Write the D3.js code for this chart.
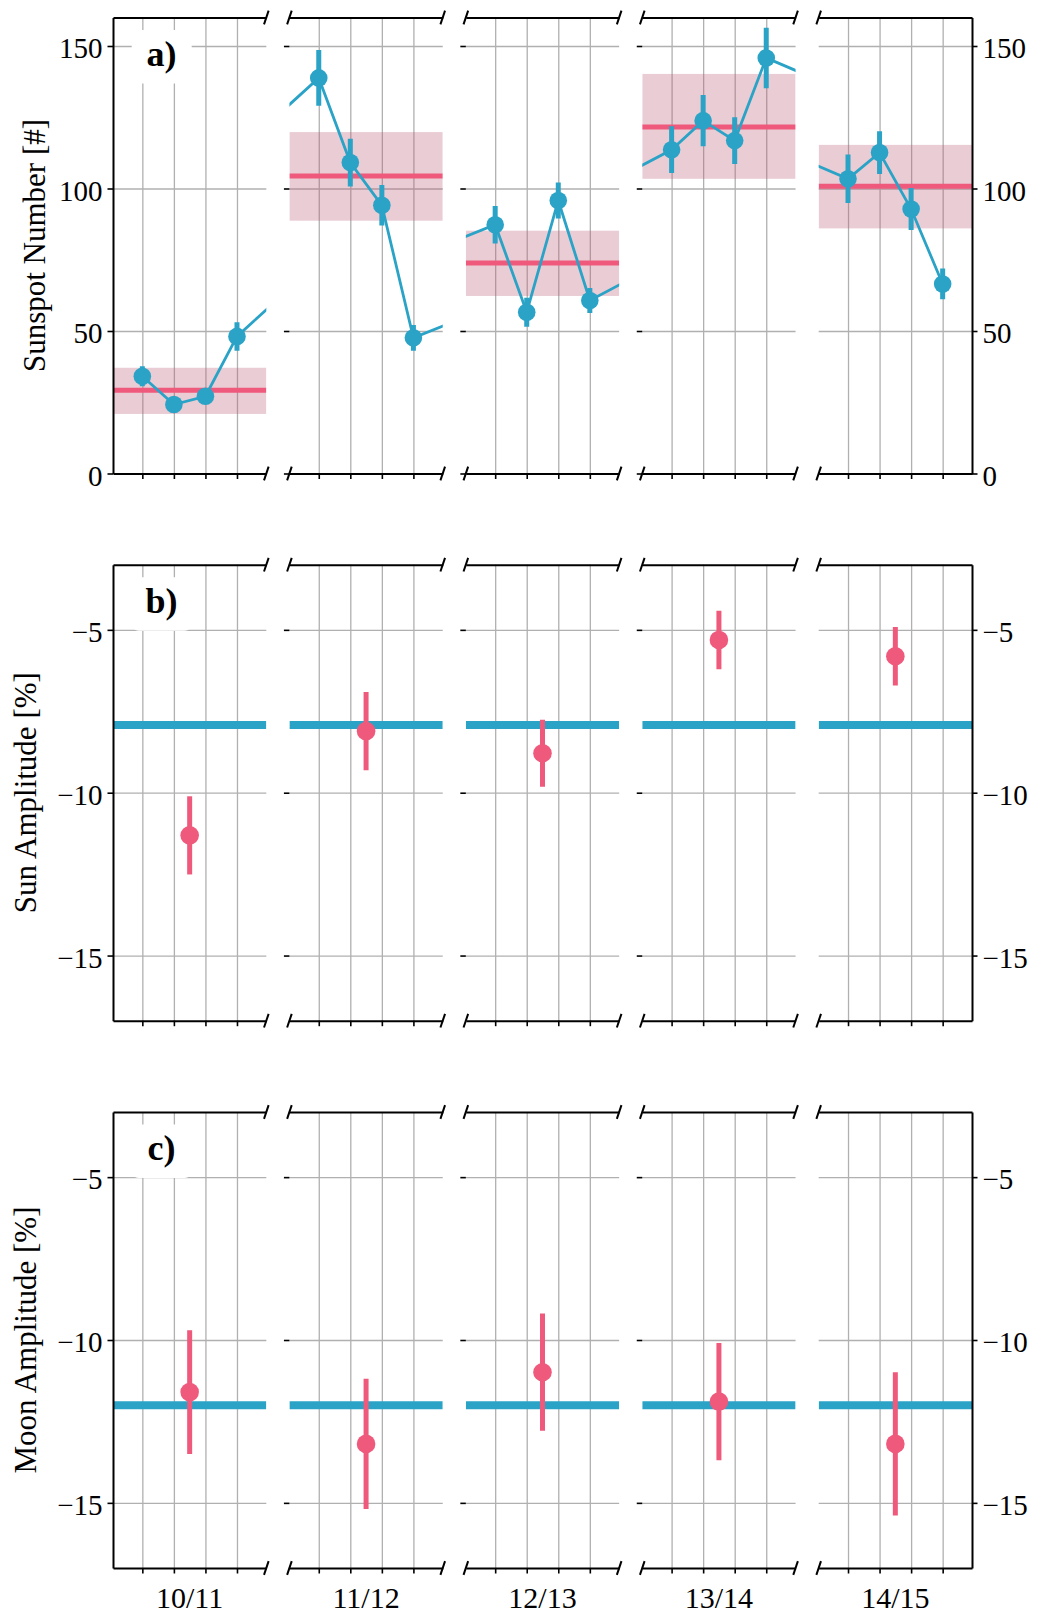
<!DOCTYPE html>
<html lang="en">
<head>
    <meta charset="UTF-8">
    <title>sunspots and amplitudes</title>
    <script src="https://cdn.jsdelivr.net/npm/d3@7"></script>
    <style>
        body{
            margin: 0;
            background: #fff;
        }
        svg{
            display: block;
            font-family: "Liberation Serif", serif;
        }
    </style>
</head>
<body>
</body>
<script type="text/javascript">

    // seasons (winters) and the four monthly slots shown in each one
    let seasons = ["10/11", "11/12", "12/13", "13/14", "14/15"];
    let monthSlots = [0, 1, 2, 3];

    // a) sunspot numbers, one row per season
    let sunspot = [[34.1, 24.2, 27.1, 48.1],
                   [138.8, 109.1, 94.1, 47.6],
                   [87.3, 56.6, 95.8, 60.7],
                   [113.6, 123.8, 116.8, 145.8],
                   [103.4, 112.6, 92.8, 66.5]];
    let sunspotErr = [[3.5, 2.5, 2.5, 5.0],
                      [9.8, 8.4, 7.1, 4.5],
                      [6.6, 5.1, 6.3, 4.4],
                      [8.2, 9.0, 8.2, 10.6],
                      [8.5, 7.5, 7.4, 5.4]];
    let sunspotMean = [29.2, 104.4, 73.9, 121.6, 100.8];
    let sunspotLow = [20.9, 88.7, 62.3, 103.4, 86.0];
    let sunspotHigh = [37.1, 119.8, 85.2, 140.2, 115.3];

    // b) sun amplitude
    let sunAmp = [-11.31, -8.11, -8.79, -5.31, -5.81];
    let sunAmpErr = [1.2, 1.2, 1.03, 0.9, 0.9];
    let sunAmpMean = -7.92;

    // c) moon amplitude
    let moonAmp = [-11.6, -13.19, -10.99, -11.89, -13.19];
    let moonAmpErr = [1.9, 2.0, 1.8, 1.8, 2.2];
    let moonAmpMean = -12.0;

    let sunspotTicks = [0, 50, 100, 150];
    let ampTicks = [-15, -10, -5];

    let blue = "#2aa3c7";
    let red = "#ef5a7c";
    let gridColor = "#b0b0b0";

    let left = 113, right = 972, gap = 23.1;
    let subW = (right - left - gap * (seasons.length - 1)) / seasons.length;
    let panelH = 456;
    let pad = 0.93;      // months of padding each side of a season window
    let yearStep = 12;   // months between seasons
    let tickLen = 5.5;

    let svg = d3.select("body")
        .append("svg")
        .attr("width", 1040)
        .attr("height", 1616);

    let panels = [
        {id: "a", top: 17.5, domain: [0, 160], ticks: sunspotTicks, title: "Sunspot Number [#]", titleX: 45},
        {id: "b", top: 564.7, domain: [-17, -3], ticks: ampTicks, title: "Sun Amplitude [%]", titleX: 36,
            values: sunAmp, errs: sunAmpErr, mean: sunAmpMean},
        {id: "c", top: 1112, domain: [-17, -3], ticks: ampTicks, title: "Moon Amplitude [%]", titleX: 36,
            values: moonAmp, errs: moonAmpErr, mean: moonAmpMean}
    ];

    // one continuous sunspot series, cut into windows below
    let sunspotPoints = [];
    seasons.forEach((s, k) => {
        monthSlots.forEach((m, j) => {
            sunspotPoints.push({season: k, x: k * yearStep + m, v: sunspot[k][j], e: sunspotErr[k][j]});
        });
    });

    let styleAxis = (a) => {
        a.attr("font-family", "Liberation Serif").attr("font-size", 29);
        a.select(".domain").attr("stroke", "#000").attr("stroke-width", 2);
        a.selectAll(".tick line").attr("stroke", "#000").attr("stroke-width", 1.6);
        a.selectAll(".tick text").attr("fill", "#000").attr("dy", "0.4em");
    };

    panels.forEach((p) => {
        let y = d3.scaleLinear().domain(p.domain).range([panelH, 0]);

        seasons.forEach((season, k) => {
            let x0 = k * yearStep;
            let x = d3.scaleLinear().domain([x0 - pad, x0 + 3 + pad]).range([0, subW]);
            let tickX = monthSlots.map(m => x0 + m);

            let g = svg.append("g")
                .attr("transform", `translate(${left + k * (subW + gap)},${p.top})`);

            let clipId = `clip-${p.id}${k}`;
            g.append("clipPath").attr("id", clipId)
                .append("rect").attr("width", subW).attr("height", panelH);

            // grid
            g.append("g")
                .call(d3.axisBottom(x).tickValues(tickX).tickSize(panelH).tickFormat(""))
                .call(a => a.select(".domain").remove())
                .selectAll("line").attr("stroke", gridColor).attr("stroke-width", 1.3);
            g.append("g")
                .call(d3.axisLeft(y).tickValues(p.ticks).tickSize(-subW).tickFormat(""))
                .call(a => a.select(".domain").remove())
                .selectAll("line").attr("stroke", gridColor).attr("stroke-width", 1.3);

            let plot = g.append("g").attr("clip-path", `url(#${clipId})`);

            if (p.id == "a") {
                plot.append("rect")
                    .attr("x", 0)
                    .attr("width", subW)
                    .attr("y", y(sunspotHigh[k]))
                    .attr("height", y(sunspotLow[k]) - y(sunspotHigh[k]))
                    .attr("fill", "#b65570")
                    .attr("fill-opacity", 0.3);
                plot.append("line")
                    .attr("x1", 0).attr("x2", subW)
                    .attr("y1", y(sunspotMean[k])).attr("y2", y(sunspotMean[k]))
                    .attr("stroke", red).attr("stroke-width", 5);

                let line = d3.line().x(d => x(d.x)).y(d => y(d.v));
                plot.append("path")
                    .datum(sunspotPoints)
                    .attr("fill", "none")
                    .attr("stroke", blue)
                    .attr("stroke-width", 2.8)
                    .attr("d", line);

                let pts = sunspotPoints.filter(d => d.season == k);
                plot.selectAll(".err").data(pts).join("line")
                    .attr("x1", d => x(d.x)).attr("x2", d => x(d.x))
                    .attr("y1", d => y(d.v + d.e)).attr("y2", d => y(d.v - d.e))
                    .attr("stroke", blue).attr("stroke-width", 5);
                plot.selectAll(".pt").data(pts).join("circle")
                    .attr("cx", d => x(d.x)).attr("cy", d => y(d.v))
                    .attr("r", 8.8)
                    .attr("fill", blue);
            } else {
                plot.append("line")
                    .attr("x1", 0).attr("x2", subW)
                    .attr("y1", y(p.mean)).attr("y2", y(p.mean))
                    .attr("stroke", blue).attr("stroke-width", 8);
                let cx = x(x0 + 1.5);
                plot.append("line")
                    .attr("x1", cx).attr("x2", cx)
                    .attr("y1", y(p.values[k] + p.errs[k])).attr("y2", y(p.values[k] - p.errs[k]))
                    .attr("stroke", red).attr("stroke-width", 5);
                plot.append("circle")
                    .attr("cx", cx).attr("cy", y(p.values[k]))
                    .attr("r", 9.3)
                    .attr("fill", red);
            }

            // panel letter on a white box
            if (k == 0) {
                g.append("rect")
                    .attr("x", 18.7).attr("y", 12.5)
                    .attr("width", 60).attr("height", 53.5)
                    .attr("rx", 7)
                    .attr("fill", "#fff");
                g.append("text")
                    .attr("x", 48.5).attr("y", 48)
                    .attr("text-anchor", "middle")
                    .attr("font-weight", "bold")
                    .attr("font-size", 36)
                    .text(p.id + ")");
            }

            // spines and ticks
            g.append("g")
                .attr("transform", `translate(0,${panelH})`)
                .call(d3.axisBottom(x).tickValues(tickX).tickSize(tickLen).tickSizeOuter(0).tickFormat(""))
                .call(styleAxis);
            g.append("g")
                .call(d3.axisTop(x).tickValues([]).tickSizeOuter(0))
                .call(styleAxis);

            if (k == 0) {
                g.append("g")
                    .call(d3.axisLeft(y).tickValues(p.ticks).tickSize(tickLen).tickPadding(5).tickSizeOuter(0))
                    .call(styleAxis);
            } else if (k < seasons.length - 1) {
                g.append("g")
                    .call(d3.axisLeft(y).tickValues(p.ticks).tickSize(tickLen).tickFormat(""))
                    .call(a => a.select(".domain").remove())
                    .call(styleAxis);
            } else {
                g.append("g")
                    .attr("transform", `translate(${subW},0)`)
                    .call(d3.axisRight(y).tickValues(p.ticks).tickSize(tickLen).tickPadding(5).tickSizeOuter(0))
                    .call(styleAxis);
            }

            // broken-axis slashes
            let d = 0.015;
            let slash = (cx, cy) => g.append("line")
                .attr("x1", cx - d * subW).attr("y1", cy + d * panelH)
                .attr("x2", cx + d * subW).attr("y2", cy - d * panelH)
                .attr("stroke", "#000").attr("stroke-width", 2);
            if (k < seasons.length - 1) { slash(subW, 0); slash(subW, panelH); }
            if (k > 0) { slash(0, 0); slash(0, panelH); }

            if (p.id == "c") {
                g.append("text")
                    .attr("x", x(x0 + 1.5))
                    .attr("y", panelH + 40)
                    .attr("text-anchor", "middle")
                    .attr("font-size", 30)
                    .text(season);
            }
        });

        svg.append("text")
            .attr("transform", `translate(${p.titleX},${p.top + panelH / 2}) rotate(-90)`)
            .attr("text-anchor", "middle")
            .attr("font-size", 31)
            .text(p.title);
    });

</script>
</html>
